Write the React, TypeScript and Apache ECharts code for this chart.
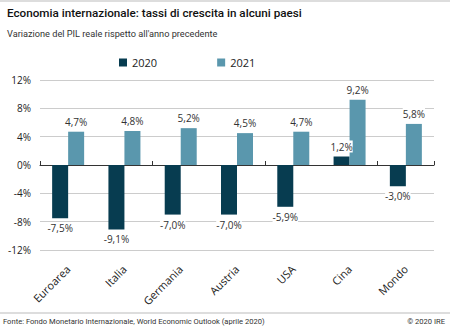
import React, { useEffect, useRef } from "react";
import * as echarts from "echarts";

const categories = ["Euroarea", "Italia", "Germania", "Austria", "USA", "Cina", "Mondo"];
const values2020 = [-7.5, -9.1, -7.0, -7.0, -5.9, 1.2, -3.0];
const values2021 = [4.7, 4.8, 5.2, 4.5, 4.7, 9.2, 5.8];
const seriesNames = ["2020", "2021"];
const colors = ["#073c50", "#5a97ad"];

const FONT = "'Open Sans', 'Noto Sans', sans-serif";
const NARROW = "Roboto, sans-serif";

function fmt(v: number) {
  return v.toFixed(1).replace(".", ",") + "%";
}

function mkData(vals: number[]) {
  return vals.map((v) => ({
    value: v,
    label: { position: v < 0 ? "bottom" : "top" },
  }));
}

export default function App() {
  const ref = useRef<HTMLDivElement>(null);
  useEffect(() => {
    if (!ref.current) return;
    const chart = echarts.init(ref.current, null, { renderer: "svg" });
    const labelCommon = {
      show: true,
      distance: 4,
      fontSize: 10,
      fontFamily: FONT,
      color: "#333",
      backgroundColor: "#fff",
      padding: [1, 0],
      formatter: (p: any) => fmt(p.value),
    };
    chart.setOption({
      animation: false,
      backgroundColor: "#fff",
      textStyle: { fontFamily: FONT },
      graphic: [
        { type: "line", shape: { x1: 0, y1: 1, x2: 450, y2: 1 }, style: { stroke: "#bbb", lineWidth: 1 } },
        { type: "line", shape: { x1: 0, y1: 313, x2: 450, y2: 313 }, style: { stroke: "#bbb", lineWidth: 1 } },
        {
          type: "text",
          left: 7,
          top: 7,
          style: { text: "Economia internazionale: tassi di crescita in alcuni paesi", fontSize: 11.7, fontFamily: NARROW, fill: "#111", fontWeight: 500 },
        },
        {
          type: "text",
          left: 7,
          top: 29,
          style: { text: "Variazione del PIL reale rispetto all'anno precedente", fontSize: 9.2, fontFamily: NARROW, fill: "#333" },
        },
        {
          type: "text",
          left: 3,
          top: 317,
          style: { text: "Fonte: Fondo Monetario Internazionale, World Economic Outlook (aprile 2020)", fontSize: 7.6, fontFamily: NARROW, fill: "#333" },
        },
        {
          type: "text",
          right: 5,
          top: 317,
          style: { text: "© 2020 IRE", fontSize: 7.6, fontFamily: NARROW, fill: "#333" },
        },
      ],
      legend: {
        data: seriesNames,
        left: 114,
        top: 52,
        itemWidth: 8,
        itemHeight: 8,
        itemGap: 60,
        icon: "rect",
        textStyle: { fontSize: 11, fontFamily: FONT, color: "#222" },
      },
      grid: { left: 40, right: 16, top: 80, bottom: 82 },
      xAxis: [
        {
          type: "category",
          data: categories,
          axisLine: { onZero: true, lineStyle: { color: "#333", width: 1 } },
          axisTick: { show: true, inside: true, length: 4, lineStyle: { color: "#333" } },
          axisLabel: { show: false },
        },
        {
          type: "category",
          data: categories,
          position: "bottom",
          axisLine: { show: false, onZero: false },
          axisTick: { show: false },
          axisLabel: { rotate: 45, fontSize: 11, fontFamily: FONT, color: "#222", margin: 17 },
        },
      ],
      yAxis: {
        type: "value",
        min: -12,
        max: 12,
        interval: 4,
        axisLine: { show: false },
        axisTick: { show: false },
        axisLabel: { formatter: (v: number) => v + "%", fontSize: 10, fontFamily: FONT, color: "#222", margin: 9 },
        splitLine: { lineStyle: { color: "#ccc", width: 1 } },
      },
      series: [
        {
          name: seriesNames[0],
          type: "bar",
          xAxisIndex: 0,
          data: mkData(values2020),
          barWidth: 16,
          barGap: "0%",
          itemStyle: { color: colors[0] },
          label: labelCommon,
          z: 3,
        },
        {
          name: seriesNames[1],
          type: "bar",
          xAxisIndex: 0,
          data: mkData(values2021),
          barWidth: 16,
          barGap: "0%",
          itemStyle: { color: colors[1] },
          label: labelCommon,
          z: 3,
        },
      ],
    });
    return () => chart.dispose();
  }, []);
  return <div ref={ref} style={{ position: "fixed", left: 0, top: 0, width: 450, height: 332 }} />;
}
